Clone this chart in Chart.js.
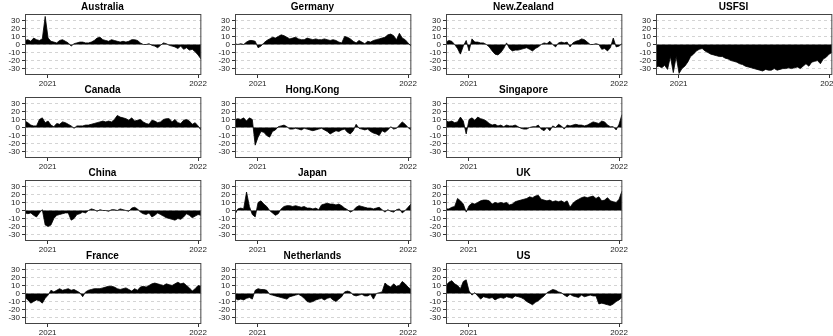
<!DOCTYPE html>
<html>
<head>
<meta charset="utf-8">
<script src="https://cdn.jsdelivr.net/npm/chart.js@4.4.0/dist/chart.umd.min.js"></script>
<style>
  html, body { margin: 0; padding: 0; background: #fff; overflow: hidden; }
  #grid { position: relative; width: 833px; height: 336px; }
  #grid canvas { position: absolute; }
</style>
</head>
<body>
<div id="grid"></div>
<script>
// weekly observations, x counted in days from 1 Jan 2021
const firstDay = -55;
const stepDays = 7;
const xMin = -55;
const xMax = 373;
const yearTicks = [0, 365];
const yearLabels = ['2021', '2022'];
const yTicks = [-30, -20, -10, 0, 10, 20, 30];

const australia = [5, 6, 4, 8, 6, 5, 7, 35, 8, 4,
  3, 2, 5, 6, 4, 2, -2, 1, 2, 3,
  3, 2, 2, 3, 5, 8, 9, 6, 5, 4,
  6, 5, 4, 3, 4, 3, 4, 6, 6, 5,
  2, 0, 0, 1, -1, -2, -4, -1, 2, 1,
  -1, -2, -3, -5, -2, -6, -4, -7, -6, -9,
  -13, -18];
const canada = [8, 6, 3, 2, 2, 10, 12, 6, 8, 3,
  1, 5, 4, 7, 6, 4, 2, -1, 2, 2,
  2, 3, 3, 4, 5, 6, 7, 8, 7, 8,
  7, 10, 15, 13, 12, 11, 9, 12, 8, 9,
  10, 7, 5, 4, 9, 8, 6, 7, 10, 11,
  11, 7, 10, 6, 5, 9, 10, 8, 4, 6,
  2, -3];
const china = [-3, -4, -3, -6, -8, -3, 1, -18, -20, -18,
  -10, -6, -5, -4, -3, -3, -12, -10, -5, -4,
  -2, -3, 0, 2, 1, -1, 1, 0, 0, -1,
  1, 1, 0, 2, 1, 0, -1, 3, 4, 2,
  -2, -4, -5, -3, -8, -6, -3, -5, -7, -9,
  -10, -11, -12, -10, -11, -8, -4, -6, -9, -7,
  -5, -6];
const france = [-5, -8, -12, -10, -8, -9, -12, -6, -2, 4,
  2, 4, 6, 4, 5, 6, 4, 5, 3, 1,
  -4, 2, 4, 5, 6, 6, 6, 7, 8, 9,
  9, 8, 6, 5, 6, 7, 5, 3, 6, 4,
  8, 9, 8, 10, 12, 13, 12, 11, 10, 12,
  11, 10, 12, 14, 12, 13, 10, 7, 3, 6,
  10, 9];
const germany = [1, 0, 1, 0, 3, 5, 5, 4, -4, -2,
  2, 5, 7, 9, 8, 10, 12, 11, 9, 7,
  8, 9, 7, 6, 6, 8, 7, 6, 7, 6,
  6, 7, 6, 5, 6, 5, 3, 2, 10, 9,
  7, 4, 2, 5, 3, 1, 4, 3, 5, 6,
  7, 8, 9, 12, 13, 11, 6, 14, 8, 6,
  2, -2];
const hongKong = [10, 11, 10, 12, 8, 12, 10, -22, -12, -5,
  -6, -10, -12, -5, -3, 1, 2, 3, 1, -2,
  -2, -1, -2, -3, -1, -2, -3, -4, -3, -2,
  -1, -3, -5, -8, -6, -4, -5, -3, -2, -6,
  -8, -4, 4, -1, -2, -3, -2, -5, -7, -8,
  -10, -4, -6, -3, 1, -2, -1, 3, 7, 4,
  0, -3];
const japan = [-5, 2, 3, 2, 23, 5, -5, -8, 10, 12,
  8, 5, 0, -3, -6, -4, 2, 5, 6, 6,
  5, 6, 5, 4, 5, 3, 3, 2, 3, 1,
  7, 8, 9, 8, 8, 7, 8, 6, 3, 1,
  -2, 0, 4, 6, 5, 4, 3, 3, 2, 3,
  4, 1, -2, 1, -1, -2, 1, 2, -3, 0,
  4, 8];
const netherlands = [-6, -8, -7, -8, -6, -5, -7, 4, 6, 5,
  5, 4, -1, -2, -3, -4, -5, -6, -7, -4,
  -3, -2, -1, -3, -6, -10, -11, -10, -8, -7,
  -6, -8, -6, -5, -8, -10, -7, -4, 2, 3,
  2, -2, -3, -2, -1, -3, -3, -1, -7, 0,
  1, 2, 13, 10, 8, 12, 9, 10, 15, 12,
  8, 5];
const newZealand = [3, 5, 4, 0, -5, -12, -2, 5, -8, 7,
  3, 3, 2, 2, 0, -3, -8, -12, -13, -10,
  -5, 2, -5, -8, -7, -7, -6, -5, -4, -6,
  -8, -5, -3, 0, 2, 1, 4, 0, -3, 2,
  3, 2, 3, -3, 2, 4, 5, 7, 6, 3,
  0, 0, 1, 0, -6, -5, -8, -4, 8, -3,
  -2, 1];
const singapore = [8, 7, 8, 6, 7, 13, 8, -8, 10, 12,
  9, 13, 11, 10, 8, 5, 3, 4, 2, 3,
  1, 3, 2, 2, 3, 1, -1, -2, -2, 0,
  1, 1, 3, -2, -4, 0, -4, 2, 0, 4,
  2, -2, 3, 2, 3, 4, 3, 3, 2, 3,
  5, 7, 6, 5, 8, 7, 3, 1, 1, -3,
  4, 16];
const uk = [2, 2, 4, 5, 15, 12, 8, -2, 6, 9,
  8, 10, 12, 13, 13, 12, 8, 10, 9, 10,
  9, 10, 7, 8, 11, 12, 13, 14, 15, 17,
  16, 18, 19, 14, 13, 12, 13, 11, 12, 11,
  12, 10, 12, 4, 9, 12, 14, 16, 17, 16,
  17, 18, 15, 17, 12, 13, 16, 12, 11, 10,
  14, 24];
const us = [10, 14, 16, 12, 10, 6, 15, 17, 3, -2,
  1, -3, -7, -4, -5, -6, -5, -8, -6, -5,
  -6, -4, -5, -6, -3, -4, -5, -7, -10, -12,
  -14, -11, -9, -6, -3, 1, 3, 5, 4, 2,
  1, -2, -4, -1, -3, -4, -5, -2, -4, -3,
  -2, -3, -3, -13, -12, -13, -14, -15, -13, -10,
  -8, -5];
const usfsi = [-28, -27, -29, -26, -31, -15, -35, -15, -36, -30,
  -27, -22, -15, -12, -8, -6, -5, -8, -10, -12,
  -13, -14, -15, -15, -17, -18, -20, -21, -22, -24,
  -25, -27, -28, -29, -30, -31, -32, -33, -31, -32,
  -32, -30, -32, -31, -30, -30, -29, -30, -29, -28,
  -30, -27, -24, -27, -22, -21, -20, -24, -18, -16,
  -12, -10];

// panels are filled column by column, four rows per column
const names = ['Australia', 'Canada', 'China', 'France', 'Germany', 'Hong.Kong',
  'Japan', 'Netherlands', 'New.Zealand', 'Singapore', 'UK', 'US', 'USFSI'];
const series = [australia, canada, china, france, germany, hongKong,
  japan, netherlands, newZealand, singapore, uk, us, usfsi];

Chart.defaults.font.family = "'Liberation Sans', Arial, sans-serif";
Chart.defaults.color = '#222';

// box round the plotting area
const frame = {
  id: 'frame',
  afterDraw(chart) {
    const a = chart.chartArea;
    const ctx = chart.ctx;
    ctx.save();
    ctx.strokeStyle = '#444';
    ctx.lineWidth = 1;
    ctx.strokeRect(a.left + 0.5, a.top + 0.5, a.right - a.left - 1, a.bottom - a.top - 1);
    ctx.restore();
  }
};

const colWidth = 210.3;
const rowHeight = 83;
const grid = document.getElementById('grid');

names.forEach((name, k) => {
  const canvas = document.createElement('canvas');
  canvas.width = 208;
  canvas.height = 88;
  canvas.style.left = Math.round(Math.floor(k / 4) * colWidth) + 'px';
  canvas.style.top = ((k % 4) * rowHeight) + 'px';
  grid.appendChild(canvas);

  const points = series[k].map((v, i) => ({ x: firstDay + i * stepDays, y: v }));

  new Chart(canvas, {
    type: 'line',
    data: {
      datasets: [{
        data: points,
        fill: 'origin',
        backgroundColor: '#000',
        borderColor: '#000',
        borderWidth: 0.8,
        pointRadius: 0,
        tension: 0
      }]
    },
    options: {
      responsive: false,
      animation: false,
      layout: { padding: { left: 0, right: 3, top: 0, bottom: 0 } },
      plugins: {
        legend: { display: false },
        tooltip: { enabled: false },
        title: {
          display: true,
          text: name,
          color: '#000',
          font: { size: 10, weight: 'bold' },
          padding: { top: 1, bottom: 1 }
        }
      },
      scales: {
        x: {
          type: 'linear',
          min: xMin,
          max: xMax,
          afterBuildTicks: s => { s.ticks = yearTicks.map(v => ({ value: v })); },
          afterFit: s => { s.height = 13; },
          ticks: {
            font: { size: 8 },
            padding: 1,
            maxRotation: 0,
            autoSkip: false,
            callback: v => yearLabels[yearTicks.indexOf(v)]
          },
          grid: { drawOnChartArea: false, tickLength: 3, tickColor: '#333' },
          border: { display: false }
        },
        y: {
          min: -38,
          max: 38,
          afterBuildTicks: s => { s.ticks = yTicks.map(v => ({ value: v })); },
          afterFit: s => { s.width = 25; },
          ticks: { font: { size: 8 }, padding: 2, autoSkip: false },
          grid: { color: '#d4d4d4', tickColor: '#333', tickLength: 3 },
          border: { display: false, dash: [3, 3] }
        }
      }
    },
    plugins: [frame]
  });
});
</script>
</body>
</html>
